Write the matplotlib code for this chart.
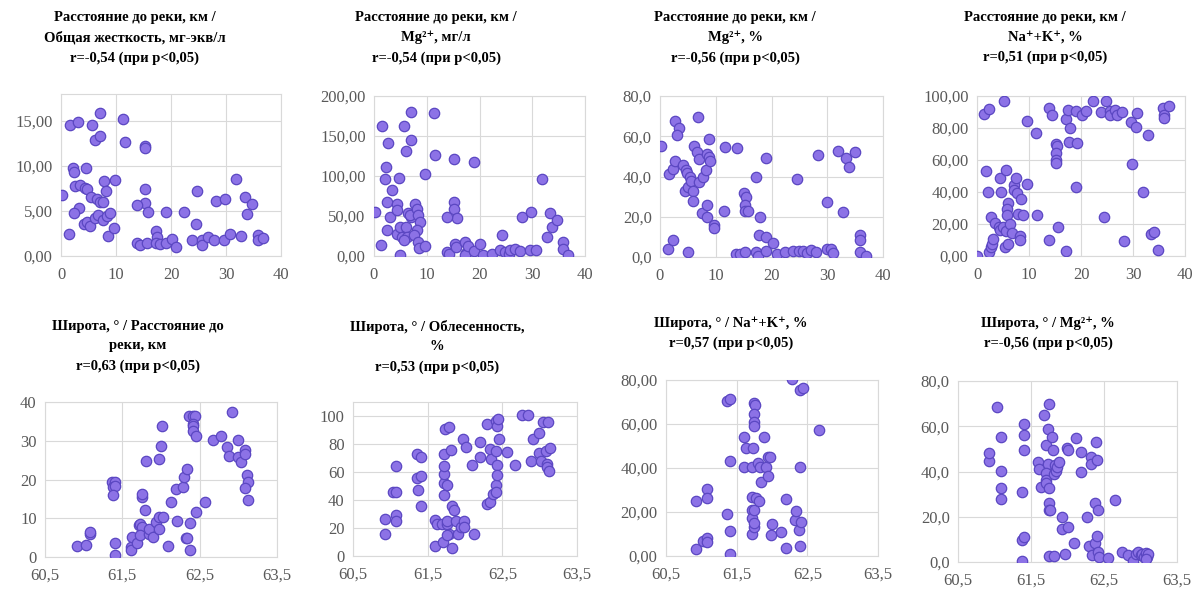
import matplotlib
matplotlib.use('Agg')
import matplotlib.pyplot as plt
from matplotlib.ticker import FuncFormatter, MultipleLocator

# data (x, y) pairs for each panel
# distance to river, km / total hardness, mg-eq/l
dist_hardness = [(0.1, 6.8), (1.5, 2.4), (1.6, 14.6), (3.0, 14.9), (2.1, 9.8), (2.4, 9.3),
                 (2.5, 7.8), (3.5, 7.9), (3.2, 5.3), (2.4, 4.8), (4.5, 9.8), (4.4, 7.6),
                 (4.8, 7.4), (5.4, 6.6), (6.5, 6.3), (7.1, 6.0), (7.7, 6.0), (5.6, 14.6),
                 (7.1, 15.9), (6.1, 12.9), (7.0, 13.3), (4.1, 3.6), (4.8, 3.8), (5.2, 3.3),
                 (6.2, 4.2), (6.8, 4.6), (7.7, 4.0), (8.4, 4.4), (8.9, 4.8), (7.9, 8.3),
                 (8.2, 7.2), (9.8, 8.5), (8.6, 2.2), (9.7, 3.1), (11.3, 15.2), (11.6, 12.7),
                 (15.3, 12.2), (15.3, 12.0), (15.3, 7.5), (15.3, 5.9), (13.9, 5.7), (15.8, 4.9),
                 (19.1, 4.9), (22.4, 4.9), (13.9, 1.5), (14.4, 1.2), (15.6, 1.5), (17.2, 2.8),
                 (17.4, 2.1), (17.2, 1.5), (18.0, 1.3), (19.0, 1.5), (20.1, 1.9), (20.9, 1.0),
                 (23.8, 1.8), (24.5, 3.6), (24.8, 7.2), (25.6, 1.8), (25.6, 1.2), (26.8, 2.1),
                 (27.8, 1.8), (28.2, 6.1), (29.9, 6.3), (29.6, 1.8), (30.7, 2.4), (31.9, 8.6),
                 (32.8, 2.2), (33.5, 6.6), (33.8, 4.7), (34.8, 5.8), (35.8, 2.3), (35.9, 1.8),
                 (36.8, 2.0)]

# distance to river / Mg2+, mg/l
dist_mg = [(0.1, 55), (1.3, 14), (1.6, 163), (2.3, 111), (2.1, 96), (2.7, 141), (2.5, 68),
           (2.5, 32), (3.4, 83), (3.0, 49), (4.7, 97), (4.4, 65), (4.4, 57), (4.3, 28),
           (4.9, 36), (5.0, 1), (5.6, 163), (6.0, 131), (7.0, 145), (7.1, 180), (5.3, 24),
           (6.1, 36), (6.2, 24), (5.6, 20), (6.5, 54), (7.0, 49), (6.8, 51), (7.8, 65),
           (8.1, 59), (8.4, 51), (8.7, 43), (8.1, 32), (7.5, 26), (8.4, 17), (8.6, 10),
           (9.7, 12), (9.7, 102), (11.3, 179), (11.5, 126), (15.2, 121), (15.2, 68),
           (15.2, 59), (15.7, 47), (13.8, 49), (13.8, 5), (14.3, 2), (15.4, 15), (15.5, 11),
           (17.2, 17), (17.4, 4), (17.3, 1), (17.9, 13), (18.9, 6), (20.0, 15), (19.0, 117),
           (20.6, 1), (22.3, 3), (23.9, 7), (24.2, 26), (24.9, 5), (25.5, 3), (25.8, 7),
           (26.8, 9), (27.7, 6), (28.1, 49), (29.6, 7), (29.8, 55), (30.7, 7), (31.8, 96),
           (32.8, 24), (33.4, 54), (33.7, 36), (34.7, 45), (35.8, 17), (35.8, 9), (36.8, 1)]

# distance to river / Mg2+, %
dist_mg_pct = [(0.1, 55.4), (1.4, 4.1), (2.3, 8.3), (1.6, 41), (2.3, 43.8), (2.7, 47.6),
               (2.7, 67.8), (3.4, 64), (3.0, 60.5), (4.2, 45.5), (4.6, 43), (4.9, 41.7),
               (4.5, 32.6), (5.1, 35), (5.4, 39.7), (5.6, 38), (5.9, 32.7), (5.9, 27.8),
               (5.1, 2.5), (6.1, 55), (6.6, 52), (7.0, 48.8), (6.8, 69.4), (7.0, 37.2),
               (7.8, 39.7), (8.2, 43.3), (8.4, 51.2), (8.7, 49.6), (9.0, 47.9), (8.7, 58.5),
               (7.5, 22), (8.5, 25.6), (8.5, 19.8), (9.7, 15.7), (9.7, 14.4), (11.5, 23.1),
               (11.6, 54.5), (13.9, 54.2), (13.7, 1.3), (14.3, 1.7), (15.1, 31.7), (15.5, 30),
               (15.2, 25.6), (15.3, 23.1), (15.7, 23.1), (15.3, 2.5), (17.2, 39.7), (17.2, 2.5),
               (17.6, 0.3), (17.9, 19.8), (17.8, 10.7), (19.1, 9.9), (19.0, 3), (19.1, 49.3),
               (20.2, 7.1), (20.9, 1.3), (22.5, 2.5), (23.9, 3), (24.5, 38.7), (24.9, 3),
               (25.7, 3), (26.3, 2), (27.0, 3.3), (27.9, 2.5), (28.4, 50.9), (29.9, 27.3),
               (29.9, 4.1), (30.7, 4.1), (31.0, 2), (31.9, 52.6), (32.9, 22.3), (33.4, 49.3),
               (33.9, 44.6), (35.0, 52), (35.9, 10.7), (35.9, 8.3), (35.8, 2.5), (36.9, 0.3)]

# distance to river / Na+ + K+, %
dist_nak = [(0, 0), (1.3, 88.7), (2.3, 91.6), (1.7, 53.2), (2.1, 40.1), (2.3, 2.5), (2.6, 5.6),
            (2.8, 7.7), (3.1, 10.9), (2.6, 24.4), (3.4, 20.7), (4.2, 18.2), (4.5, 16.1),
            (5.0, 18.2), (5.5, 15.7), (5.3, 5.6), (6.0, 7.3), (4.4, 48.9), (4.7, 40.1),
            (5.1, 97.1), (5.6, 53.7), (6.0, 33.2), (5.8, 29.6), (5.8, 25.9), (6.3, 19.8),
            (6.8, 14.4), (7.1, 44.3), (7.2, 41.5), (7.5, 48.9), (7.7, 39.5), (7.8, 26.5),
            (8.5, 35.9), (8.8, 25.5), (8.3, 12.3), (8.3, 9.8), (9.6, 44.7), (9.6, 84.6),
            (11.3, 76.6), (11.5, 25.5), (13.8, 10.2), (13.8, 92.7), (14.4, 88.1), (15.1, 70),
            (15.4, 68.7), (15.1, 64.1), (15.1, 59.9), (15.1, 58.2), (15.6, 18.2), (17.2, 2.9),
            (17.2, 85.4), (17.5, 91.2), (17.9, 80.2), (17.7, 71.2), (19.1, 90.8), (19.2, 70.8),
            (19.1, 43.2), (20.1, 88.1), (20.9, 90.8), (22.4, 97.1), (23.8, 89.8), (24.9, 97.1),
            (24.4, 24.4), (25.5, 90.8), (25.6, 88.1), (26.5, 91.2), (26.9, 88.1), (27.9, 89.8),
            (28.2, 9.2), (29.7, 83.9), (29.9, 57.2), (30.8, 89.6), (30.6, 80.8), (31.9, 40.1),
            (32.8, 75.6), (33.5, 14), (34.0, 15), (34.8, 4), (35.8, 92.3), (35.9, 88.1),
            (35.9, 86), (36.9, 93.7)]

# latitude / distance to river, km
lat_dist = [(60.92, 2.85), (61.03, 3.0), (61.08, 6.0), (61.08, 6.5), (61.36, 19.4), (61.41, 19.4),
            (61.38, 18.1), (61.41, 18.3), (61.38, 16), (61.41, 3.5), (61.41, 0.4), (61.61, 2.6),
            (61.61, 1.9), (61.63, 5.2), (61.69, 3.6), (61.71, 8.2), (61.73, 8.6), (61.75, 15.6),
            (61.76, 16.2), (61.76, 7.8), (61.73, 5.6), (61.79, 12.1), (61.81, 24.9), (61.84, 6.0),
            (61.85, 7.3), (61.90, 5.2), (61.94, 9.1), (61.97, 25.2), (61.97, 10.4), (61.97, 7.3),
            (62.02, 10.4), (62.00, 28.7), (62.01, 33.9), (62.09, 2.8), (62.13, 14.3), (62.20, 17.5),
            (62.21, 9.3), (62.29, 18.1), (62.30, 20.6), (62.33, 22.7), (62.32, 4.9), (62.34, 4.8),
            (62.38, 1.7), (62.38, 8.8), (62.36, 36.3), (62.41, 36.3), (62.44, 36.3), (62.41, 34.3),
            (62.41, 33.7), (62.41, 32.4), (62.45, 31.3), (62.45, 11.7), (62.57, 14.3), (62.67, 30.2),
            (62.77, 31.1), (62.85, 28.3), (62.88, 26.1), (62.92, 37.3), (62.99, 30.1), (62.99, 25.9),
            (63.03, 24.4), (63.08, 27.5), (63.09, 26.6), (63.11, 21.2), (63.12, 19.4), (63.09, 17.7),
            (63.13, 14.7)]

# latitude / forest cover, %
lat_forest = [(60.93, 15.4), (60.93, 26.2), (61.04, 45.6), (61.08, 45.6), (61.08, 64), (61.08, 29),
              (61.08, 25), (61.36, 72.8), (61.41, 71), (61.36, 55.6), (61.41, 57.4), (61.37, 47.5),
              (61.41, 35.5), (61.60, 7.3), (61.60, 25.5), (61.63, 23.2), (61.69, 23.2), (61.71, 10.2),
              (61.72, 52), (61.72, 58.6), (61.72, 64.5), (61.72, 72.8), (61.72, 43.3), (61.73, 90.5),
              (61.76, 23.2), (61.76, 50.4), (61.76, 25), (61.79, 92.2), (61.79, 15.4), (61.76, 14.9),
              (61.81, 75.9), (61.83, 5.4), (61.83, 35.5), (61.85, 32.6), (61.88, 25), (61.90, 15.4),
              (61.94, 20.8), (61.99, 25), (61.99, 20.8), (61.97, 83.5), (62.01, 78), (62.09, 65.2),
              (62.12, 15.4), (62.20, 81.6), (62.20, 70.9), (62.30, 94.6), (62.33, 76.4), (62.35, 69.3),
              (62.30, 37.4), (62.33, 38.5), (62.37, 44.4), (62.41, 50.4), (62.41, 45.6), (62.41, 96.5),
              (62.43, 92.9), (62.44, 98.1), (62.41, 75.2), (62.43, 65.2), (62.43, 58.2), (62.45, 83.5),
              (62.56, 74), (62.67, 65.2), (62.77, 100.5), (62.85, 100.5), (62.89, 67.6), (62.91, 83.5),
              (62.99, 88.2), (62.99, 73.3), (63.02, 68.1), (63.04, 96), (63.11, 96), (63.08, 74.7),
              (63.10, 65.7), (63.10, 63.4), (63.12, 60.5), (63.14, 77.5)]

# latitude / Na+ + K+, %
lat_nak = [(60.93, 3.0), (60.93, 25), (61.08, 30.3), (61.08, 26.2), (61.03, 6.8), (61.08, 8),
           (61.08, 6.5), (61.36, 70.6), (61.41, 71.4), (61.40, 43.3), (61.36, 18.9), (61.40, 11.4),
           (61.41, 0.9), (61.61, 53.9), (61.63, 48.9), (61.61, 40.3), (61.71, 40.3), (61.73, 48.9),
           (61.72, 27), (61.72, 20.9), (61.72, 9.8), (61.72, 17.1), (61.74, 13), (61.75, 69.4),
           (61.76, 68.6), (61.75, 64.5), (61.75, 61.1), (61.75, 59.1), (61.74, 20.9), (61.75, 14.8),
           (61.78, 26.2), (61.80, 42.4), (61.82, 25), (61.83, 40.6), (61.85, 33.8), (61.88, 53.9),
           (61.91, 40.3), (61.94, 44.8), (61.97, 44.8), (61.94, 36.4), (62.00, 14.5), (61.99, 9.5),
           (62.13, 10.8), (62.20, 25.9), (62.20, 3.8), (62.29, 80.3), (62.33, 16.4), (62.34, 20.5),
           (62.38, 11.8), (62.40, 40.6), (62.40, 75.5), (62.44, 76.5), (62.41, 15.6), (62.39, 4.5),
           (62.66, 57.3)]

# latitude / Mg2+, %
lat_mg_pct = [(60.93, 44.6), (60.93, 48.2), (61.03, 68.5), (61.09, 55.3), (61.09, 40.1), (61.09, 32.8),
              (61.09, 27.8), (61.38, 31), (61.40, 60.9), (61.41, 56), (61.40, 49.4), (61.38, 9.7),
              (61.41, 11.2), (61.38, 0.6), (61.60, 44.3), (61.61, 41.3), (61.64, 33.2), (61.68, 64.9),
              (61.70, 51.6), (61.73, 43.5), (61.70, 39.4), (61.70, 36.2), (61.71, 34.7), (61.73, 59),
              (61.75, 70), (61.75, 32.5), (61.75, 25.9), (61.74, 22.9), (61.76, 23.2), (61.74, 2.6),
              (61.79, 55.3), (61.80, 49.4), (61.81, 39.1), (61.83, 42.8), (61.82, 2.6), (61.84, 40.3),
              (61.86, 42.1), (61.89, 44.3), (61.92, 20), (61.93, 14.4), (61.96, 3.4), (61.99, 50.4),
              (62.00, 49.7), (62.01, 15.6), (62.09, 8.5), (62.11, 54.6), (62.19, 48.7), (62.19, 39.9),
              (62.27, 20), (62.29, 7.1), (62.32, 46.5), (62.32, 43.5), (62.33, 3.1), (62.37, 25.9),
              (62.38, 8.2), (62.39, 53.1), (62.40, 45.3), (62.41, 11.5), (62.42, 22.9), (62.42, 4.6),
              (62.43, 2.1), (62.55, 1.6), (62.65, 27.6), (62.75, 4.6), (62.83, 3.1), (62.90, 0.6),
              (62.94, 3.4), (62.97, 4.6), (63.00, 3.1), (63.02, 3.5), (63.05, 2.4), (63.07, 4.1),
              (63.09, 2.1), (63.10, 3.4), (63.07, 1.2)]

titles = [
    "Расстояние до реки, км /\nОбщая жесткость, мг-экв/л\nr=-0,54 (при p<0,05)",
    "Расстояние до реки, км /\nMg²⁺, мг/л\nr=-0,54 (при p<0,05)",
    "Расстояние до реки, км /\nMg²⁺, %\nr=-0,56 (при p<0,05)",
    "Расстояние до реки, км /\nNa⁺+K⁺, %\nr=0,51 (при p<0,05)",
    "Широта, ° / Расстояние до\nреки, км\nr=0,63 (при p<0,05)",
    "Широта, ° / Облесенность,\n%\nr=0,53 (при p<0,05)",
    "Широта, ° / Na⁺+K⁺, %\nr=0,57 (при p<0,05)",
    "Широта, ° / Mg²⁺, %\nr=-0,56 (при p<0,05)",
]

dist_ticks = [0, 10, 20, 30, 40]
lat_ticks = [60.5, 61.5, 62.5, 63.5]

W, H = 1204, 595
fig = plt.figure(figsize=(W / 100, H / 100), dpi=100)
serif = ['Liberation Serif', 'DejaVu Serif']

def comma(decimals):
    return FuncFormatter(lambda v, p: f"{v:.{decimals}f}".replace('.', ','))

# data, plot box in px (left, right, top, bottom), xticks, x decimals, ylim, ystep, y decimals, title x, title top
panels = [
    (dist_hardness, (61, 281, 94, 256), dist_ticks, 0, (0, 18), 5, 2, 135, 11),
    (dist_mg, (374, 585, 96, 256), dist_ticks, 0, (0, 200), 50, 2, 436, 11),
    (dist_mg_pct, (660, 883, 96, 257), dist_ticks, 0, (0, 80), 20, 1, 735, 11),
    (dist_nak, (977, 1185, 96, 256), dist_ticks, 0, (0, 100), 20, 2, 1045, 11),
    (lat_dist, (45, 277, 402, 557), lat_ticks, 1, (0, 40), 10, 0, 138, 320),
    (lat_forest, (353, 577, 402, 556), lat_ticks, 1, (0, 110), 20, 0, 437, 320),
    (lat_nak, (666, 878, 380, 556), lat_ticks, 1, (0, 80), 20, 2, 731, 316),
    (lat_mg_pct, (958, 1177, 381, 562), lat_ticks, 1, (0, 80), 20, 1, 1048, 316),
]

for i, (pts, box, xticks, xdec, ylim, ystep, ydec, tx, ty) in enumerate(panels):
    l, r, t, b = box
    ax = fig.add_axes([l / W, 1 - b / H, (r - l) / W, (b - t) / H])
    x, y = zip(*pts)
    ax.scatter(x, y, s=56, c='#8c72e6', edgecolors='#5b47c2', linewidths=0.9, zorder=3)
    ax.set_xlim(xticks[0], xticks[-1])
    ax.set_ylim(*ylim)
    ax.set_xticks(xticks)
    ax.yaxis.set_major_locator(MultipleLocator(ystep))
    ax.xaxis.set_major_formatter(comma(xdec))
    ax.yaxis.set_major_formatter(comma(ydec))
    ax.grid(True, color='#d9d9d9', linewidth=0.8, zorder=0)
    for s in ax.spines.values():
        s.set_color('#d9d9d9')
        s.set_linewidth(0.8)
    ax.tick_params(length=0, labelsize=12, labelcolor='#595959')
    ax.tick_params(axis='x', pad=8)
    ax.tick_params(axis='y', pad=6)
    for lab in ax.get_xticklabels() + ax.get_yticklabels():
        lab.set_family(serif)
    fig.text(tx / W, 1 - ty / H, titles[i], ha='center', va='top', family=serif,
             fontweight='bold', fontsize=10.5, linespacing=1.65)

fig.savefig('out.png', dpi=100)
